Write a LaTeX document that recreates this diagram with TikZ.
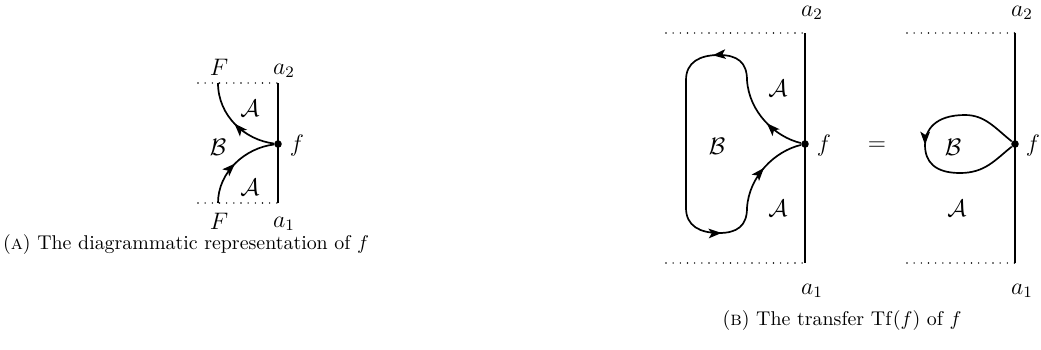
\documentclass[tikz,border=0pt]{standalone}
\usetikzlibrary{arrows.meta,decorations.markings}
\begin{document}
\begin{tikzpicture}[x=0.5025pt,y=-0.5025pt,
  wire/.style={line width=0.85pt},
  dotline/.style={line width=0.8pt,line cap=round,dash pattern=on 0pt off 3.6pt},
  midarrow/.style={postaction={decorate},decoration={markings,
     mark=at position #1 with {\arrow{Stealth[length=6.5pt,width=4.8pt,inset=1.5pt]}}}},
  lbl/.style={inner sep=0pt,font=\fontsize{12}{14}\selectfont},
  captext/.style={inner sep=0pt},
  dotnode/.style={circle,fill,inner sep=0pt,minimum size=3.8pt}]
\useasboundingbox (0,0) rectangle (1041,349);

% ---------- (A) ----------
\coordinate (atl) at (198,83);
\coordinate (atr) at (278,83);
\coordinate (abl) at (198,203);
\coordinate (abr) at (278,203);
\coordinate (aFt) at (218,83);
\coordinate (aFb) at (218,203);
\node[dotnode] (af) at (278,144) {};
\draw[dotline] (atl) -- (atr);
\draw[dotline] (abl) -- (abr);
\draw[wire] (atr) -- (abr);
\draw[wire,midarrow=0.5] (aFb) .. controls (218,172) and (245,148) .. (af);
\draw[wire,midarrow=0.5] (af) .. controls (245,140) and (218,116) .. (aFt);
\node[lbl] (aF1) at (219,67) {$F$};
\node[lbl] (aa2) at (284,71) {$a_2$};
\node[lbl] (aF2) at (219,221) {$F$};
\node[lbl] (aa1) at (284,224) {$a_1$};
\node[lbl] (aflab) at (297,146) {$f$};
\node[lbl] (aA1) at (250,108) {$\mathcal{A}$};
\node[lbl] (aB) at (218,147) {$\mathcal{B}$};
\node[lbl] (aA2) at (250,187) {$\mathcal{A}$};
\node[captext] (capA) at (186,245) {(\textsc{a}) The diagrammatic representation of $f$};

% ---------- (B) left ----------
\coordinate (btl) at (666,33);
\coordinate (btr) at (805,33);
\coordinate (bbl) at (666,263);
\coordinate (bbr) at (805,263);
\node[dotnode] (bf) at (805,144) {};
\draw[dotline] (btl) -- (btr);
\draw[dotline] (bbl) -- (bbr);
\draw[wire] (btr) -- (bbr);
\coordinate (bu) at (747,80);
\coordinate (bul) at (686,80);
\coordinate (bdl) at (686,208);
\coordinate (bd) at (747,208);
\draw[wire,midarrow=0.45] (bf) .. controls (775,137) and (749,112) .. (bu);
\draw[wire,midarrow=0.55] (bu) .. controls (747,62) and (737,55) .. (719,55) .. controls (700,55) and (686,62) .. (bul);
\draw[wire] (bul) -- (bdl);
\draw[wire,midarrow=0.55] (bdl) .. controls (686,226) and (700,233) .. (719,233) .. controls (737,233) and (747,226) .. (bd);
\draw[wire,midarrow=0.5] (bd) .. controls (749,176) and (775,151) .. (bf);
\node[lbl] (ba2) at (812,13) {$a_2$};
\node[lbl] (ba1) at (812,291) {$a_1$};
\node[lbl] (bflab) at (824,146) {$f$};
\node[lbl] (bB) at (717,146) {$\mathcal{B}$};
\node[lbl] (bA1) at (778,88) {$\mathcal{A}$};
\node[lbl] (bA2) at (778,208) {$\mathcal{A}$};
\node[lbl] (eq) at (877,146) {$=$};

% ---------- (B) right ----------
\coordinate (ctl) at (907,33);
\coordinate (ctr) at (1015,33);
\coordinate (cbl) at (907,263);
\coordinate (cbr) at (1015,263);
\node[dotnode] (cf) at (1015,144) {};
\draw[dotline] (ctl) -- (ctr);
\draw[dotline] (cbl) -- (cbr);
\draw[wire] (ctr) -- (cbr);
\draw[wire,midarrow=0.5] (cf) .. controls (995,128) and (985,115) .. (965,115) .. controls (935,115) and (925,130) .. (925,145) .. controls (925,162) and (935,173) .. (960,173) .. controls (985,173) and (995,160) .. (cf);
\node[lbl] (ca2) at (1022,13) {$a_2$};
\node[lbl] (ca1) at (1022,291) {$a_1$};
\node[lbl] (cflab) at (1033,146) {$f$};
\node[lbl] (cB) at (953,147) {$\mathcal{B}$};
\node[lbl] (cA) at (957,208) {$\mathcal{A}$};
\node[captext] (capB) at (842,321) {(\textsc{b}) The transfer $\mathrm{Tf}(f)$ of $f$};
\end{tikzpicture}
\end{document}
